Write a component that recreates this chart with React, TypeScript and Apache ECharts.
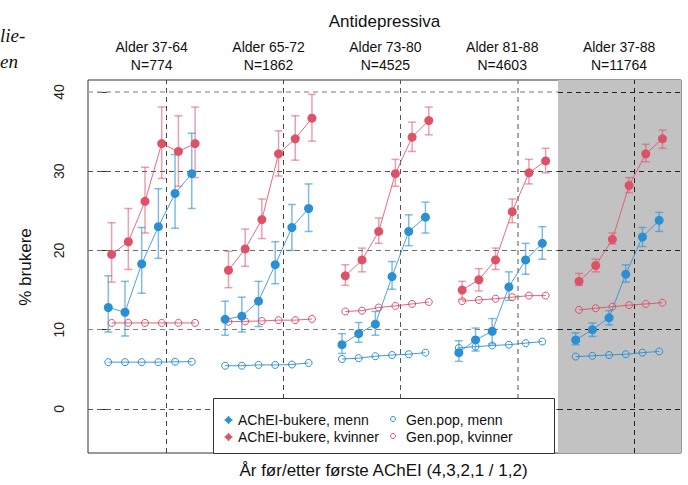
import React, { useEffect, useRef } from "react";
import * as echarts from "echarts";

// ---------- data ----------
const mainTitle = "Antidepressiva";
const panelLabels = ["Alder 37-64", "Alder 65-72", "Alder 73-80", "Alder 81-88", "Alder 37-88"];
const panelN = [774, 1862, 4525, 4603, 11764];
const yearLabels = ["-4", "-3", "-2", "-1", "1", "2"];
const yTicks = [0, 10, 20, 30, 40];

const menMean = [
  [12.8, 12.2, 18.3, 23.0, 27.2, 29.7],
  [11.3, 11.7, 13.6, 18.2, 22.9, 25.3],
  [8.1, 9.5, 10.7, 16.7, 22.4, 24.2],
  [7.1, 8.7, 9.8, 15.4, 18.8, 20.9],
  [8.7, 10.0, 11.5, 17.0, 21.7, 23.8],
];
const menLow = [
  [9.7, 9.2, 14.6, 19.0, 22.8, 25.3],
  [9.3, 9.7, 10.4, 15.8, 20.0, 22.4],
  [7.0, 8.4, 9.3, 15.1, 20.6, 22.2],
  [6.0, 7.3, 8.2, 13.7, 17.0, 18.9],
  [8.1, 9.15, 10.6, 16.0, 20.5, 22.4],
];
const menHigh = [
  [16.8, 16.1, 22.9, 27.8, 32.1, 34.8],
  [13.6, 14.1, 16.1, 21.1, 25.8, 28.4],
  [9.5, 10.9, 12.3, 18.6, 24.5, 26.1],
  [8.6, 10.2, 11.4, 17.3, 20.9, 23.0],
  [9.6, 10.85, 12.4, 18.2, 22.9, 24.8],
];
const womenMean = [
  [19.5, 21.1, 26.2, 33.5, 32.5, 33.5],
  [17.5, 20.2, 23.9, 32.2, 34.1, 36.7],
  [16.8, 18.8, 22.4, 29.7, 34.3, 36.4],
  [15.0, 16.3, 18.8, 24.9, 29.8, 31.3],
  [16.1, 18.1, 21.4, 28.2, 32.2, 34.1],
];
const womenLow = [
  [16.0, 17.6, 22.2, 29.1, 28.1, 29.2],
  [15.3, 18.0, 21.5, 29.4, 31.4, 33.8],
  [15.6, 17.3, 20.9, 28.1, 32.5, 34.6],
  [13.8, 14.9, 17.6, 23.5, 28.4, 29.8],
  [15.6, 17.3, 20.8, 27.3, 31.2, 32.9],
];
const womenHigh = [
  [23.5, 25.3, 30.5, 38.1, 37.0, 38.1],
  [19.9, 22.7, 26.5, 35.1, 37.0, 39.7],
  [18.2, 20.3, 24.1, 31.5, 36.2, 38.1],
  [16.1, 17.7, 20.3, 26.5, 31.5, 32.9],
  [17.1, 18.9, 22.2, 29.2, 33.4, 35.2],
];
const genMen = [
  [5.9, 5.9, 5.9, 5.9, 5.95, 5.95],
  [5.45, 5.45, 5.55, 5.55, 5.6, 5.8],
  [6.3, 6.4, 6.65, 6.8, 6.9, 7.1],
  [7.7, 7.85, 8.0, 8.1, 8.3, 8.5],
  [6.6, 6.7, 6.8, 6.9, 7.1, 7.25],
];
const genWomen = [
  [10.85, 10.85, 10.85, 10.85, 10.85, 10.85],
  [11.0, 11.05, 11.1, 11.2, 11.2, 11.35],
  [12.3, 12.4, 12.8, 13.0, 13.25, 13.5],
  [13.6, 13.75, 13.9, 14.1, 14.3, 14.3],
  [12.5, 12.7, 12.9, 13.1, 13.25, 13.4],
];
const legendLabels = [
  "AChEI-bukere, menn",
  "AChEI-bukere, kvinner",
  "Gen.pop, menn",
  "Gen.pop, kvinner",
];
const xAxisTitle = "År før/etter første AChEI (4,3,2,1 / 1,2)";
const yAxisTitle = "% brukere";

// ---------- layout / style ----------
const W = 688;
const H = 485;
const GRID_LEFT = 88;
const GRID_TOP = 80;
const GRID_RIGHT = 7;
const GRID_BOTTOM = 32;
const X_MIN = -1.216;
const X_MAX = 34.31;
const Y_MIN = -5.57;
const Y_MAX = 41.52;
const PANEL_STEP = 7;
const WOMEN_SHIFT = 0.2;
const DIVIDER_OFFSET = 3.5;
const TITLE_OFFSET = 2.6;
const GRAY_START = 26.94;

const BLUE = "#2b8fd4";
const RED = "#de5268";
const BLUE_A = "rgba(43,143,212,0.6)";
const RED_A = "rgba(222,82,104,0.55)";
const FONT = "'Liberation Sans', Arial, sans-serif";

const hLineColors = ["#555555", "#808080", "#6e6e6e", "#505050", "#a8a8a8"];
const vLineColors = ["#444444", "#444444", "#555555", "#8a8a8a", "#222222"];

const xOf = (p: number, i: number) => p * PANEL_STEP + i;
const plotW = W - GRID_LEFT - GRID_RIGHT;
const xPix = (u: number) => GRID_LEFT + ((u - X_MIN) / (X_MAX - X_MIN)) * plotW;

function errorBarSeries(low: number[][], high: number[][], shift: number, color: string) {
  const data: number[][] = [];
  low.forEach((row, p) =>
    row.forEach((lo, i) => data.push([xOf(p, i) + shift, lo, high[p][i]]))
  );
  return {
    type: "custom",
    z: 8,
    silent: true,
    data,
    encode: { x: 0, y: [1, 2] },
    renderItem: (_params: any, api: any) => {
      const x = api.value(0);
      const a = api.coord([x, api.value(1)]);
      const b = api.coord([x, api.value(2)]);
      const w = 4;
      const st = { stroke: color, lineWidth: 1.5 };
      return {
        type: "group",
        children: [
          { type: "line", shape: { x1: a[0], y1: a[1], x2: b[0], y2: b[1] }, style: st },
          { type: "line", shape: { x1: a[0] - w, y1: a[1], x2: a[0] + w, y2: a[1] }, style: st },
          { type: "line", shape: { x1: b[0] - w, y1: b[1], x2: b[0] + w, y2: b[1] }, style: st },
        ],
      };
    },
  };
}

function lineSeries(values: number[][], shift: number, color: string, filled: boolean) {
  return values.map((row, p) => ({
    type: "line",
    z: 10,
    silent: true,
    symbol: "circle",
    symbolSize: filled ? 9 : 7,
    data: row.map((v, i) => [xOf(p, i) + shift, v]),
    itemStyle: filled
      ? { color }
      : { color: "rgba(0,0,0,0)", borderColor: color, borderWidth: 1 },
    lineStyle: { color, width: 1, opacity: filled ? 0.85 : 0.9 },
  }));
}

export default function App() {
  const ref = useRef<HTMLDivElement>(null);

  useEffect(() => {
    document.body.style.margin = "0";
    if (!ref.current) return;
    const chart = echarts.init(ref.current, undefined, { renderer: "svg" });

    // dashed reference lines
    const markLines: any[] = [];
    yTicks.forEach((v, k) => {
      markLines.push([
        { coord: [X_MIN, v], lineStyle: { color: hLineColors[k], width: k === 4 ? 1.5 : 1, type: [5, 4] } },
        { coord: [GRAY_START, v] },
      ]);
      markLines.push([
        { coord: [GRAY_START, v], lineStyle: { color: "#222222", width: 1, type: [5, 4] } },
        { coord: [X_MAX, v] },
      ]);
    });
    panelLabels.forEach((_, p) => {
      const u = p * PANEL_STEP + DIVIDER_OFFSET;
      markLines.push([
        { coord: [u, Y_MIN], lineStyle: { color: vLineColors[p], width: p === 3 ? 1.5 : 1, type: [5, 4] } },
        { coord: [u, Y_MAX] },
      ]);
    });

    const graphics: any[] = [];
    // document text fragments at the left edge
    graphics.push({
      type: "text", x: 0, y: 35, z: 100,
      style: { text: "lie-", fill: "#111", font: "italic 19px 'Liberation Serif', serif", textAlign: "left", textVerticalAlign: "middle" },
    });
    graphics.push({
      type: "text", x: 0, y: 61, z: 100,
      style: { text: "en", fill: "#111", font: "italic 19px 'Liberation Serif', serif", textAlign: "left", textVerticalAlign: "middle" },
    });
    graphics.push({
      type: "text", x: GRID_LEFT + plotW / 2, y: 21, z: 100,
      style: { text: mainTitle, fill: "#111", font: `17px ${FONT}`, textAlign: "center", textVerticalAlign: "middle" },
    });
    panelLabels.forEach((lab, p) => {
      const cx = xPix(p * PANEL_STEP + TITLE_OFFSET);
      graphics.push({
        type: "text", x: cx, y: 47, z: 100,
        style: { text: lab, fill: "#111", font: `14px ${FONT}`, textAlign: "center", textVerticalAlign: "middle" },
      });
      graphics.push({
        type: "text", x: cx, y: 65, z: 100,
        style: { text: `N=${panelN[p]}`, fill: "#111", font: `14px ${FONT}`, textAlign: "center", textVerticalAlign: "middle" },
      });
    });
    graphics.push({
      type: "text", x: 383.5, y: 470, z: 100,
      style: { text: xAxisTitle, fill: "#111", font: `17px ${FONT}`, textAlign: "center", textVerticalAlign: "middle" },
    });
    graphics.push({
      type: "text", x: 25, y: 267, rotation: Math.PI / 2, z: 100,
      style: { text: yAxisTitle, fill: "#111", font: `17px ${FONT}`, textAlign: "center", textVerticalAlign: "middle" },
    });

    // legend
    const LX = 213, LY = 398, LW = 341, LH = 55;
    graphics.push({
      type: "rect", z: 100,
      shape: { x: LX + 0.5, y: LY + 0.5, width: LW, height: LH },
      style: { fill: "#ffffff", stroke: "#333333", lineWidth: 1 },
    });
    const rows = [420, 437];
    const colors = [BLUE, RED];
    rows.forEach((ry, r) => {
      graphics.push({ type: "circle", z: 101, shape: { cx: 228.5, cy: ry, r: 3 }, style: { fill: colors[r] } });
      graphics.push({ type: "rect", z: 101, shape: { x: 224.5, y: ry - 0.75, width: 8, height: 1.5 }, style: { fill: colors[r] } });
      graphics.push({ type: "rect", z: 101, shape: { x: 227.75, y: ry - 4, width: 1.5, height: 8 }, style: { fill: colors[r] } });
      graphics.push({
        type: "text", x: 238, y: ry, z: 101,
        style: { text: legendLabels[r], fill: "#111", font: `14px ${FONT}`, textVerticalAlign: "middle" },
      });
      graphics.push({ type: "circle", z: 101, shape: { cx: 393, cy: ry - 1, r: 2.5 }, style: { fill: "none", stroke: colors[r], lineWidth: 1 } });
      graphics.push({
        type: "text", x: 406, y: ry, z: 101,
        style: { text: legendLabels[r + 2], fill: "#111", font: `14px ${FONT}`, textVerticalAlign: "middle" },
      });
    });

    const option: any = {
      animation: false,
      backgroundColor: "#ffffff",
      textStyle: { fontFamily: FONT },
      grid: {
        left: GRID_LEFT, top: GRID_TOP, right: GRID_RIGHT, bottom: GRID_BOTTOM,
        show: true, borderColor: "#333333", borderWidth: 1, backgroundColor: "transparent",
      },
      xAxis: {
        type: "value", min: X_MIN, max: X_MAX,
        axisLine: { show: false }, axisTick: { show: false }, axisLabel: { show: false }, splitLine: { show: false },
      },
      yAxis: {
        type: "value", min: Y_MIN, max: Y_MAX,
        axisLine: { show: false },
        axisTick: { show: true, length: 11, customValues: yTicks, lineStyle: { color: "#333333" } },
        axisLabel: { show: true, customValues: yTicks, rotate: 90, margin: 22, fontSize: 14, color: "#222222", fontFamily: FONT },
        splitLine: { show: false },
      },
      graphic: graphics,
      series: [
        {
          type: "line", data: [], silent: true, z: 1,
          markArea: {
            silent: true,
            itemStyle: { color: "#c2c2c2" },
            data: [[{ coord: [GRAY_START, Y_MIN] }, { coord: [X_MAX, Y_MAX] }]],
          },
        },
        {
          type: "line", data: [], silent: true, z: 2,
          markLine: { silent: true, symbol: ["none", "none"], label: { show: false }, animation: false, data: markLines },
        },
        errorBarSeries(menLow, menHigh, 0, BLUE_A),
        errorBarSeries(womenLow, womenHigh, WOMEN_SHIFT, RED_A),
        ...lineSeries(genMen, 0, BLUE, false),
        ...lineSeries(genWomen, WOMEN_SHIFT, RED, false),
        ...lineSeries(menMean, 0, BLUE, true),
        ...lineSeries(womenMean, WOMEN_SHIFT, RED, true),
      ],
    };
    chart.setOption(option);
    return () => chart.dispose();
  }, []);

  return <div ref={ref} style={{ width: W, height: H }} />;
}
